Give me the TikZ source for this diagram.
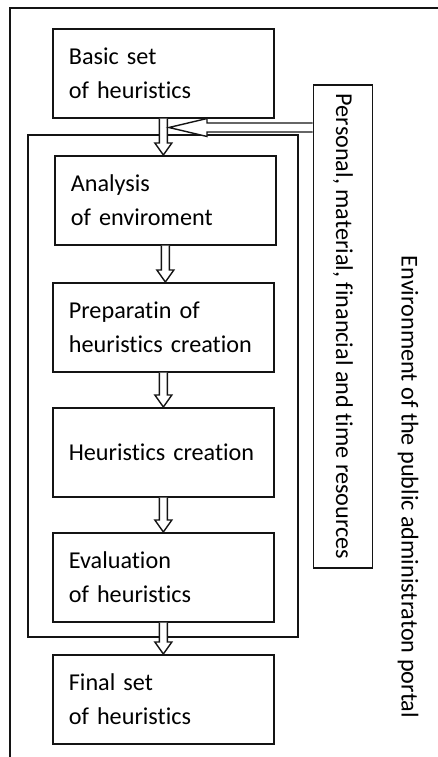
\documentclass[tikz,border=0pt]{standalone}
\usepackage{fontspec}
\setmainfont{Carlito}[Ligatures=NoCommon]
\usetikzlibrary{calc}
\definecolor{lineblack}{RGB}{20,20,20}

% hollow arrow downwards, from the bottom of one box to the top of the next
\newcommand\hollowdown[2]{%
  \draw[hollow] let \p1=(#1.south), \p2=(#2.north) in
    (\x1-4pt,\y1) -- (\x1-4pt,\y2+12pt) -- (\x1-8.5pt,\y2+12pt) -- (\x1,\y2)
    -- (\x1+8.5pt,\y2+12pt) -- (\x1+4pt,\y2+12pt) -- (\x1+4pt,\y1);}

\tikzset{
  box/.style={draw=lineblack, line width=1.7pt, anchor=north west, minimum width=221pt,
    minimum height=89pt, text width=189pt, inner xsep=16pt, align=left},
  hollow/.style={draw=lineblack, fill=white, line width=1.4pt, line join=miter},
  frame/.style={draw=lineblack, line width=1.7pt}
}

\begin{document}
\begin{tikzpicture}[x=1pt,y=-1pt,font=\fontsize{24.2}{34}\selectfont]
\useasboundingbox (0,0) rectangle (438,757);

\draw[frame] (438,8) -- (10,8) -- (10,757);
\draw[frame] (28,135) rectangle (298,637);

\node[box] (basic) at (52,28) {Basic set\\of heuristics};
\node[box] (analysis) at (54,155) {Analysis\\of enviroment};
\node[box] (prep) at (52,282) {Preparatin of\\heuristics creation};
\node[box] (creation) at (52,407) {Heuristics creation};
\node[box] (evaluation) at (52,532) {Evaluation\\of heuristics};
\node[box] (final) at (52,654) {Final set\\of heuristics};

\node[draw=lineblack, line width=1.7pt, rotate=-90, minimum width=483pt, minimum height=59pt, inner sep=0pt]
  (resources) at (343,326.5) {Personal, material, financial and time resources};
\node[rotate=-90] (portal) at (408,487) {Environment of the public administraton portal};

\coordinate (merge) at (169,127.5);

\hollowdown{basic}{analysis}
\hollowdown{analysis}{prep}
\hollowdown{prep}{creation}
\hollowdown{creation}{evaluation}
\hollowdown{evaluation}{final}

\draw[hollow] let \p1=(merge), \p2=(resources.south) in
  (\x2,\y1+4.5pt) -- (\x1+38pt,\y1+4.5pt) -- (\x1+38pt,\y1+9pt) -- (\x1,\y1)
  -- (\x1+38pt,\y1-9pt) -- (\x1+38pt,\y1-4.5pt) -- (\x2,\y1-4.5pt);
\end{tikzpicture}
\end{document}
